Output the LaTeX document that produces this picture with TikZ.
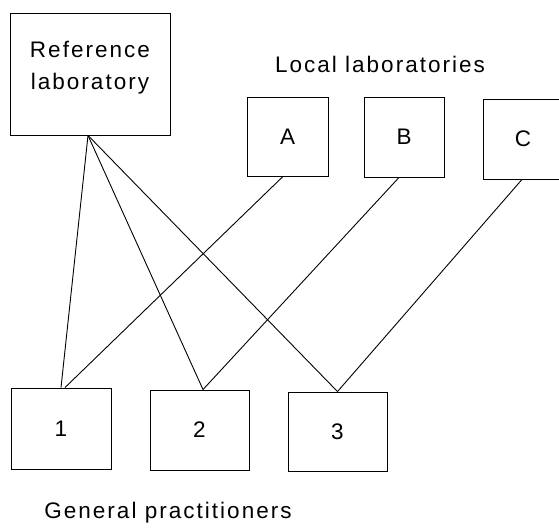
\documentclass[tikz,border=0pt]{standalone}
\usepackage{fontspec}
\newfontfamily\labfont[LetterSpace=9]{Liberation Sans}
\tikzset{
  boxnode/.style={draw, line width=0.9pt, rectangle, inner sep=0pt, font=\labfont\fontsize{22.5}{32}\selectfont},
  txt/.style={inner sep=0pt, font=\labfont\fontsize{22.5}{32}\selectfont},
  link/.style={line width=0.9pt}
}
\begin{document}
\begin{tikzpicture}[x=1pt,y=-1pt]
\useasboundingbox (0,0) rectangle (559,529);
% boxes
\node[boxnode, minimum width=160pt, minimum height=122pt] (ref) at (90,74) {};
\node[txt, align=center, anchor=base] (reftext) at (90,90) {Reference\\laboratory};
\node[boxnode, minimum width=81pt, minimum height=79pt] (A) at (287.5,136.5) {A};
\node[boxnode, minimum width=80pt, minimum height=80pt] (B) at (404,137) {B};
\node[boxnode, minimum width=80pt, minimum height=80pt] (C) at (523,139) {C};
\node[boxnode, minimum width=100pt, minimum height=81pt] (n1) at (61,428.5) {1};
\node[boxnode, minimum width=99pt, minimum height=80pt] (n2) at (199.5,430) {2};
\node[boxnode, minimum width=99pt, minimum height=79pt] (n3) at (337.5,431.5) {3};
% labels
\node[txt, anchor=base] (local) at (380,73) {Local laboratories};
\node[txt, anchor=base] (gp) at (168,518) {General practitioners};
% connectors
\coordinate (refb) at ([xshift=-2pt]ref.south);
\draw[link] (refb) -- (n1.north);
\draw[link] (refb) -- ([xshift=3.5pt]n2.north);
\draw[link] (refb) -- (n3.north);
\draw[link] ([xshift=-4.5pt]A.south) -- ([xshift=4pt]n1.north);
\draw[link] ([xshift=-5pt]B.south) -- ([xshift=3.5pt]n2.north);
\draw[link] ([xshift=-1pt]C.south) -- (n3.north);
\end{tikzpicture}
\end{document}
